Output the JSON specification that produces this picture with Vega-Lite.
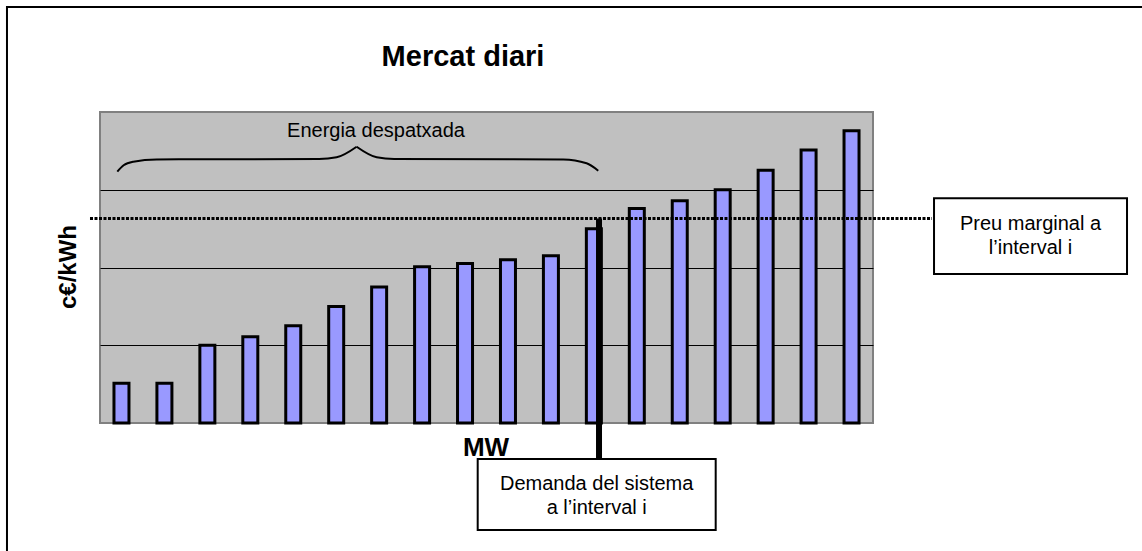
{
  "$schema": "https://vega.github.io/schema/vega-lite/v6.json",
  "width": 773,
  "height": 311,
  "autosize": {"type": "none"},
  "padding": {"left": 100, "top": 112, "right": 269, "bottom": 128},
  "background": "#ffffff",
  "config": {
    "font": "Liberation Sans",
    "view": {"fill": "#c0c0c0", "stroke": "#808080", "strokeWidth": 2}
  },
  "datasets": {
    "bars": [
      {"unit": 1, "price": 0.51}, {"unit": 2, "price": 0.51}, {"unit": 3, "price": 1.0},
      {"unit": 4, "price": 1.11}, {"unit": 5, "price": 1.25}, {"unit": 6, "price": 1.5},
      {"unit": 7, "price": 1.75}, {"unit": 8, "price": 2.01}, {"unit": 9, "price": 2.05},
      {"unit": 10, "price": 2.1}, {"unit": 11, "price": 2.15}, {"unit": 12, "price": 2.5},
      {"unit": 13, "price": 2.76}, {"unit": 14, "price": 2.86}, {"unit": 15, "price": 3.0},
      {"unit": 16, "price": 3.25}, {"unit": 17, "price": 3.51}, {"unit": 18, "price": 3.76}
    ],
    "price_line": [{"x": 0.267, "x2": 19.874, "y": 2.63}],
    "demand_line": [{"x": 12.12, "y": 2.63, "y2": -0.463}],
    "brace": [
      {"side": "L", "bx": 0.903, "by": 3.232},
      {"side": "L", "bx": 1.05, "by": 3.315},
      {"side": "L", "bx": 1.275, "by": 3.361},
      {"side": "L", "bx": 1.818, "by": 3.390},
      {"side": "L", "bx": 5.6, "by": 3.395},
      {"side": "L", "bx": 6.01, "by": 3.417},
      {"side": "L", "bx": 6.476, "by": 3.553},
      {"side": "R", "bx": 6.476, "by": 3.553},
      {"side": "R", "bx": 6.943, "by": 3.417},
      {"side": "R", "bx": 7.35, "by": 3.395},
      {"side": "R", "bx": 11.289, "by": 3.390},
      {"side": "R", "bx": 11.831, "by": 3.340},
      {"side": "R", "bx": 12.102, "by": 3.245}
    ],
    "boxes": [
      {"name": "preu", "x": 19.921, "x2": 24.415, "y": 2.890, "y2": 1.916},
      {"name": "demanda", "x": 9.295, "x2": 14.837, "y": -0.463, "y2": -1.376}
    ],
    "frame": [{"x": -1.666, "x2": 25.5, "y": 5.350, "y2": -1.9}],
    "labels": [
      {"label": "Energia despatxada", "tx": 6.927, "ty": 3.682},
      {"label": "Preu marginal a", "tx": 22.168, "ty": 2.482},
      {"label": "l’interval i", "tx": 22.168, "ty": 2.174},
      {"label": "Demanda del sistema", "tx": 12.066, "ty": -0.862},
      {"label": "a l’interval i", "tx": 12.066, "ty": -1.170}
    ],
    "title": [{"label": "Mercat diari", "tx": 8.953, "ty": 4.592}]
  },
  "layer": [
    {
      "data": {"name": "bars"},
      "mark": {"type": "bar", "size": 15, "fill": "#9999ff", "stroke": "#000000", "strokeWidth": 3},
      "encoding": {
        "x": {
          "field": "unit", "type": "quantitative",
          "scale": {"domain": [0.5, 18.5], "nice": false, "zero": false, "padding": 0},
          "axis": {
            "title": "MW", "labels": false, "ticks": false, "domain": false, "grid": false,
            "titleX": 385.5, "titleY": 32, "titleAlign": "center", "titleBaseline": "alphabetic",
            "titleFontSize": 26, "titleFontWeight": "bold", "titleColor": "#000000", "titleFont": "Liberation Sans"
          }
        },
        "y": {
          "field": "price", "type": "quantitative",
          "scale": {"domain": [0, 4], "nice": false, "zero": false, "padding": 0},
          "axis": {
            "title": "c€/kWh", "labels": false, "ticks": false, "domain": false, "grid": true,
            "values": [1, 2, 3], "gridColor": "#000000", "gridOpacity": 1, "gridWidth": 1,
            "titleX": -25, "titleY": 154.5, "titleAngle": -90, "titleAlign": "center", "titleBaseline": "alphabetic",
            "titleFontSize": 24, "titleFontWeight": "bold", "titleColor": "#000000", "titleFont": "Liberation Sans"
          }
        }
      }
    },
    {
      "data": {"name": "price_line"},
      "mark": {"type": "rule", "color": "#000000", "strokeWidth": 3, "strokeDash": [3, 1.5]},
      "encoding": {
        "x": {"field": "x", "type": "quantitative"},
        "x2": {"field": "x2"},
        "y": {"field": "y", "type": "quantitative"}
      }
    },
    {
      "data": {"name": "demand_line"},
      "mark": {"type": "rule", "color": "#000000", "strokeWidth": 6},
      "encoding": {
        "x": {"field": "x", "type": "quantitative"},
        "y": {"field": "y", "type": "quantitative"},
        "y2": {"field": "y2"}
      }
    },
    {
      "data": {"name": "brace"},
      "mark": {"type": "line", "interpolate": "monotone", "color": "#000000", "strokeWidth": 2},
      "encoding": {
        "x": {"field": "bx", "type": "quantitative"},
        "y": {"field": "by", "type": "quantitative"},
        "detail": {"field": "side"}
      }
    },
    {
      "data": {"name": "boxes"},
      "mark": {"type": "rect", "fill": "#ffffff", "stroke": "#000000", "strokeWidth": 2},
      "encoding": {
        "x": {"field": "x", "type": "quantitative"},
        "x2": {"field": "x2"},
        "y": {"field": "y", "type": "quantitative"},
        "y2": {"field": "y2"}
      }
    },
    {
      "data": {"name": "frame"},
      "mark": {"type": "rect", "fill": "transparent", "stroke": "#000000", "strokeWidth": 2},
      "encoding": {
        "x": {"field": "x", "type": "quantitative"},
        "x2": {"field": "x2"},
        "y": {"field": "y", "type": "quantitative"},
        "y2": {"field": "y2"}
      }
    },
    {
      "data": {"name": "labels"},
      "mark": {"type": "text", "align": "center", "baseline": "alphabetic", "fontSize": 20, "color": "#000000", "font": "Liberation Sans"},
      "encoding": {
        "x": {"field": "tx", "type": "quantitative"},
        "y": {"field": "ty", "type": "quantitative"},
        "text": {"field": "label"}
      }
    },
    {
      "data": {"name": "title"},
      "mark": {"type": "text", "align": "center", "baseline": "alphabetic", "fontSize": 29, "fontWeight": "bold", "color": "#000000", "font": "Liberation Sans"},
      "encoding": {
        "x": {"field": "tx", "type": "quantitative"},
        "y": {"field": "ty", "type": "quantitative"},
        "text": {"field": "label"}
      }
    }
  ]
}
